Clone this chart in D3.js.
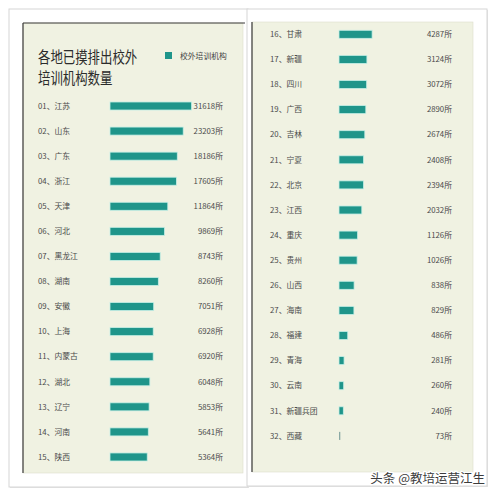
<!DOCTYPE html>
<html>
<head>
<meta charset="utf-8">
<script src="https://cdn.jsdelivr.net/npm/d3@7"></script>
<style>
  body { margin: 0; background: #fff; }
  svg { display: block; font-family: "Noto Sans CJK SC", "Noto Sans", sans-serif; }
</style>
</head>
<body>
<div id="chart"></div>
<script>
// data
const provinces = ["江苏", "山东", "广东", "浙江", "天津", "河北", "黑龙江", "湖南", "安徽", "上海",
  "内蒙古", "湖北", "辽宁", "河南", "陕西", "甘肃", "新疆", "四川", "广西", "吉林",
  "宁夏", "北京", "江西", "重庆", "贵州", "山西", "海南", "福建", "青海", "云南",
  "新疆兵团", "西藏"];
const counts = [31618, 23203, 18186, 17605, 11864, 9869, 8743, 8260, 7051, 6928,
  6920, 6048, 5853, 5641, 5364, 4287, 3124, 3072, 2890, 2674,
  2408, 2394, 2032, 1126, 1026, 838, 829, 486, 281, 260,
  240, 73];
const titleLines = ["各地已摸排出校外", "培训机构数量"];
const legendLabel = "校外培训机构";
const unit = "所";
const watermark = "头条 @教培运营江生";

const W = 497, H = 497;
const teal = "#1f958a";
const beige = "#f0f2e2";

const svg = d3.select("#chart").append("svg")
  .attr("width", W)
  .attr("height", H);

// the bar lengths in the picture are not proportional, so a piecewise scale
var x = d3.scaleLinear()
  .domain([0, 1000, 4000, 10000, 20000, 32000])
  .range([0, 18, 32, 55, 70, 82]);

var rows = counts.map((v, i) => ({ rank: i + 1, name: provinces[i], value: v }));
var leftRows = rows.slice(0, 15);
var rightRows = rows.slice(15);

// cards
function card(x0, x1, y0, y1, bx0, bx1, by0, by1, topLine) {
  svg.append("rect")
    .attr("x", x0 + 1).attr("y", y0 + 1)
    .attr("width", x1 - x0).attr("height", y1 - y0)
    .attr("fill", "#e4e4e4");
  svg.append("rect")
    .attr("x", x0).attr("y", y0)
    .attr("width", x1 - x0).attr("height", y1 - y0)
    .attr("fill", "#fff")
    .attr("stroke", "#d6d6d6");
  svg.append("rect")
    .attr("x", bx0).attr("y", by0)
    .attr("width", bx1 - bx0).attr("height", by1 - by0)
    .attr("fill", beige)
    .attr("stroke", "#dcdccc")
    .attr("stroke-width", 0.6);
  svg.append("line")
    .attr("x1", bx0).attr("x2", bx0)
    .attr("y1", by0).attr("y2", by1)
    .attr("stroke", "#3a3a3a").attr("stroke-width", 1.2);
  if (topLine) {
    svg.append("line")
      .attr("x1", bx0).attr("x2", bx1 + 2)
      .attr("y1", by0).attr("y2", by0)
      .attr("stroke", "#3a3a3a").attr("stroke-width", 1);
  }
}
card(9, 248, 9, 487, 23, 243, 23, 473, true);
card(247, 487, 9, 486, 252, 473, 22, 472, false);

// title + legend
svg.selectAll(".title")
  .data(titleLines)
  .join("text")
  .attr("class", "title")
  .attr("x", 38)
  .attr("y", (d, i) => 63 + i * 21)
  .attr("font-size", 15.5)
  .attr("fill", "#2b2b2b")
  .attr("textLength", d => d.length * 12.4)
  .attr("lengthAdjust", "spacingAndGlyphs")
  .text(d => d);

svg.append("rect")
  .attr("x", 165).attr("y", 52)
  .attr("width", 7).attr("height", 7)
  .attr("fill", teal);
svg.append("text")
  .attr("x", 180).attr("y", 58.5)
  .attr("font-size", 7.8)
  .attr("fill", "#444")
  .text(legendLabel);

var fmt = d3.format("02d");

function panel(data, yStart, step, labelX, barX, valueX) {
  var y = d3.scaleBand()
    .domain(data.map(d => d.rank))
    .range([yStart - step / 2, yStart - step / 2 + step * data.length])
    .paddingInner(0.68)
    .paddingOuter(0.34);

  var g = svg.append("g");
  var row = g.selectAll("g")
    .data(data)
    .join("g");

  row.append("text")
    .attr("x", labelX)
    .attr("y", d => y(d.rank) + y.bandwidth() / 2)
    .attr("dy", "0.35em")
    .attr("font-size", 7.8)
    .attr("fill", "#4a4a4a")
    .text(d => fmt(d.rank) + "、" + d.name);

  row.append("rect")
    .attr("x", barX)
    .attr("y", d => y(d.rank))
    .attr("width", d => Math.max(1, x(d.value)))
    .attr("height", y.bandwidth())
    .attr("fill", d => d.value < 100 ? "#8aa9a4" : teal)
    .attr("stroke", d => d.value < 100 ? "none" : "#c6efe6")
    .attr("stroke-width", 0.8);

  row.append("text")
    .attr("x", valueX)
    .attr("y", d => y(d.rank) + y.bandwidth() / 2)
    .attr("dy", "0.35em")
    .attr("text-anchor", "end")
    .attr("font-size", 7.8)
    .attr("fill", "#4a4a4a")
    .text(d => d.value + unit);
}

panel(leftRows, 106, 25.07, 38, 110, 223);
panel(rightRows, 34.3, 25.1, 270, 339, 452);

// watermark
svg.append("text")
  .attr("x", 485).attr("y", 482.5)
  .attr("text-anchor", "end")
  .attr("font-size", 12.5)
  .attr("fill", "#3c3c3c")
  .attr("stroke", "#fff")
  .attr("stroke-width", 2.5)
  .attr("paint-order", "stroke")
  .text(watermark);
</script>
</body>
</html>
